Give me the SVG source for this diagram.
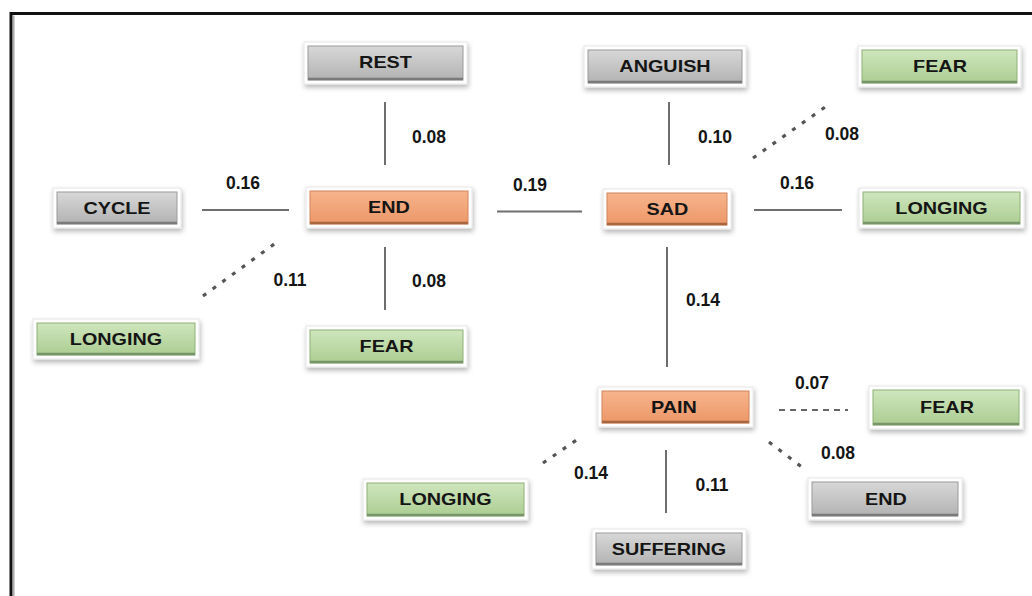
<svg xmlns="http://www.w3.org/2000/svg" width="1032" height="596" viewBox="0 0 1032 596">
<defs>
<linearGradient id="gGray" x1="0" y1="0" x2="0" y2="1"><stop offset="0" stop-color="#d8d8d8"/><stop offset="1" stop-color="#b2b2b2"/></linearGradient>
<linearGradient id="gGreen" x1="0" y1="0" x2="0" y2="1"><stop offset="0" stop-color="#cfe6bd"/><stop offset="1" stop-color="#abcd92"/></linearGradient>
<linearGradient id="gOrange" x1="0" y1="0" x2="0" y2="1"><stop offset="0" stop-color="#f7b48c"/><stop offset="1" stop-color="#ec9768"/></linearGradient>
<filter id="sh" x="-20%" y="-40%" width="140%" height="190%"><feDropShadow dx="1" dy="3" stdDeviation="2.5" flood-color="#000" flood-opacity="0.28"/></filter>
</defs>
<style>
.frame{fill:#ffffff;stroke:#e6e6e6;stroke-width:1;filter:url(#sh)}
.gray .box{fill:url(#gGray);stroke:#9a9a9a;stroke-width:1}
.gray .edge{stroke:#7a7a7a}
.green .box{fill:url(#gGreen);stroke:#8fb077;stroke-width:1}
.green .edge{stroke:#78956a}
.orange .box{fill:url(#gOrange);stroke:#d0845a;stroke-width:1}
.orange .edge{stroke:#a8663f}
.edge{stroke-width:2.5;fill:none}
.lbl{font-family:"Liberation Sans",Arial,sans-serif;font-weight:bold;font-size:16.5px;fill:#151515;text-anchor:middle;dominant-baseline:central}
.num{font-family:"Liberation Sans",Arial,sans-serif;font-weight:bold;font-size:17.5px;fill:#151515;text-anchor:middle;dominant-baseline:central}
.solid{stroke:#6e6e6e;stroke-width:2;fill:none}
.dotted{stroke:#555;stroke-width:3.2;stroke-dasharray:4 8;fill:none}
.dashed{stroke:#666;stroke-width:2;stroke-dasharray:6 5;fill:none}
</style>
<rect x="0" y="0" width="1032" height="596" fill="#ffffff"/>
<path d="M11 596 V13.5 H1032" fill="none" stroke="#111" stroke-width="3"/>
<path d="M13.8 596 V15.5" fill="none" stroke="#aaa" stroke-width="1.5"/>

<g id="connectors">
<line class="solid" x1="385" y1="102" x2="385" y2="165"/>
<line class="solid" x1="385" y1="247" x2="385" y2="310"/>
<line class="solid" x1="202" y1="210" x2="289" y2="210"/>
<line class="solid" x1="497" y1="211.5" x2="582" y2="211.5"/>
<line class="solid" x1="669" y1="102" x2="669" y2="165"/>
<line class="solid" x1="754" y1="210" x2="842" y2="210"/>
<line class="solid" x1="667" y1="247" x2="667" y2="367"/>
<line class="solid" x1="666" y1="450" x2="666" y2="513"/>
<line class="dotted" x1="203" y1="296" x2="277" y2="242"/>
<line class="dotted" x1="753" y1="158" x2="828" y2="105"/>
<line class="dotted" x1="543" y1="463" x2="578" y2="439"/>
<line class="dotted" x1="769" y1="442" x2="803" y2="468"/>
<line class="dashed" x1="779" y1="410" x2="848" y2="410"/>
</g>

<g id="labels">
<text class="num" x="429" y="137">0.08</text>
<text class="num" x="243" y="183">0.16</text>
<text class="num" x="530" y="185">0.19</text>
<text class="num" x="290" y="280">0.11</text>
<text class="num" x="429" y="281">0.08</text>
<text class="num" x="715" y="137">0.10</text>
<text class="num" x="842" y="134">0.08</text>
<text class="num" x="797" y="183">0.16</text>
<text class="num" x="703" y="300">0.14</text>
<text class="num" x="812" y="383">0.07</text>
<text class="num" x="591" y="473">0.14</text>
<text class="num" x="712" y="485">0.11</text>
<text class="num" x="838" y="453">0.08</text>
</g>

<g id="n-rest" class="gray">
<rect class="frame" x="304" y="42" width="163" height="42"/>
<rect class="box" x="308" y="46" width="155" height="34"/>
<line class="edge" x1="308" y1="79" x2="463" y2="79"/>
<text class="lbl" transform="translate(385.5 63) scale(1.2 1)">REST</text>
</g>
<g id="n-anguish" class="gray">
<rect class="frame" x="584" y="46" width="162" height="41"/>
<rect class="box" x="588" y="50" width="154" height="33"/>
<line class="edge" x1="588" y1="82" x2="742" y2="82"/>
<text class="lbl" transform="translate(665 66.5) scale(1.2 1)">ANGUISH</text>
</g>
<g id="n-fear-tr" class="green">
<rect class="frame" x="858" y="46" width="163" height="41"/>
<rect class="box" x="862" y="50" width="155" height="33"/>
<line class="edge" x1="862" y1="82" x2="1017" y2="82"/>
<text class="lbl" transform="translate(940 66.5) scale(1.2 1)">FEAR</text>
</g>
<g id="n-cycle" class="gray">
<rect class="frame" x="53" y="188" width="128" height="40"/>
<rect class="box" x="57" y="192" width="120" height="32"/>
<line class="edge" x1="57" y1="223" x2="177" y2="223"/>
<text class="lbl" transform="translate(117 208.5) scale(1.2 1)">CYCLE</text>
</g>
<g id="n-end" class="orange">
<rect class="frame" x="306" y="187" width="166" height="41"/>
<rect class="box" x="310" y="191" width="158" height="33"/>
<line class="edge" x1="310" y1="223" x2="468" y2="223"/>
<text class="lbl" transform="translate(389 208) scale(1.2 1)">END</text>
</g>
<g id="n-sad" class="orange">
<rect class="frame" x="603" y="189" width="128" height="40"/>
<rect class="box" x="607" y="193" width="120" height="32"/>
<line class="edge" x1="607" y1="224" x2="727" y2="224"/>
<text class="lbl" transform="translate(667.5 209.5) scale(1.2 1)">SAD</text>
</g>
<g id="n-longing-r" class="green">
<rect class="frame" x="859" y="188" width="165" height="40"/>
<rect class="box" x="863" y="192" width="157" height="32"/>
<line class="edge" x1="863" y1="223" x2="1020" y2="223"/>
<text class="lbl" transform="translate(941.5 208.5) scale(1.2 1)">LONGING</text>
</g>
<g id="n-longing-l" class="green">
<rect class="frame" x="33" y="319" width="166" height="40"/>
<rect class="box" x="37" y="323" width="158" height="32"/>
<line class="edge" x1="37" y1="354" x2="195" y2="354"/>
<text class="lbl" transform="translate(116 339.5) scale(1.2 1)">LONGING</text>
</g>
<g id="n-fear-m" class="green">
<rect class="frame" x="306" y="326" width="161" height="41"/>
<rect class="box" x="310" y="330" width="153" height="33"/>
<line class="edge" x1="310" y1="362" x2="463" y2="362"/>
<text class="lbl" transform="translate(386.5 347) scale(1.2 1)">FEAR</text>
</g>
<g id="n-pain" class="orange">
<rect class="frame" x="598" y="387" width="155" height="40"/>
<rect class="box" x="602" y="391" width="147" height="32"/>
<line class="edge" x1="602" y1="422" x2="749" y2="422"/>
<text class="lbl" transform="translate(674 407.5) scale(1.2 1)">PAIN</text>
</g>
<g id="n-fear-r" class="green">
<rect class="frame" x="869" y="386" width="154" height="43"/>
<rect class="box" x="873" y="390" width="146" height="35"/>
<line class="edge" x1="873" y1="424" x2="1019" y2="424"/>
<text class="lbl" transform="translate(947 407.5) scale(1.2 1)">FEAR</text>
</g>
<g id="n-longing-b" class="green">
<rect class="frame" x="363" y="479" width="165" height="41"/>
<rect class="box" x="367" y="483" width="157" height="33"/>
<line class="edge" x1="367" y1="515" x2="524" y2="515"/>
<text class="lbl" transform="translate(445.5 500) scale(1.2 1)">LONGING</text>
</g>
<g id="n-end-br" class="gray">
<rect class="frame" x="808" y="478" width="154" height="42"/>
<rect class="box" x="812" y="482" width="146" height="34"/>
<line class="edge" x1="812" y1="515" x2="958" y2="515"/>
<text class="lbl" transform="translate(886 499.5) scale(1.2 1)">END</text>
</g>
<g id="n-suffering" class="gray">
<rect class="frame" x="592" y="529" width="154" height="40"/>
<rect class="box" x="596" y="533" width="146" height="32"/>
<line class="edge" x1="596" y1="564" x2="742" y2="564"/>
<text class="lbl" transform="translate(669 549.5) scale(1.2 1)">SUFFERING</text>
</g>
</svg>
